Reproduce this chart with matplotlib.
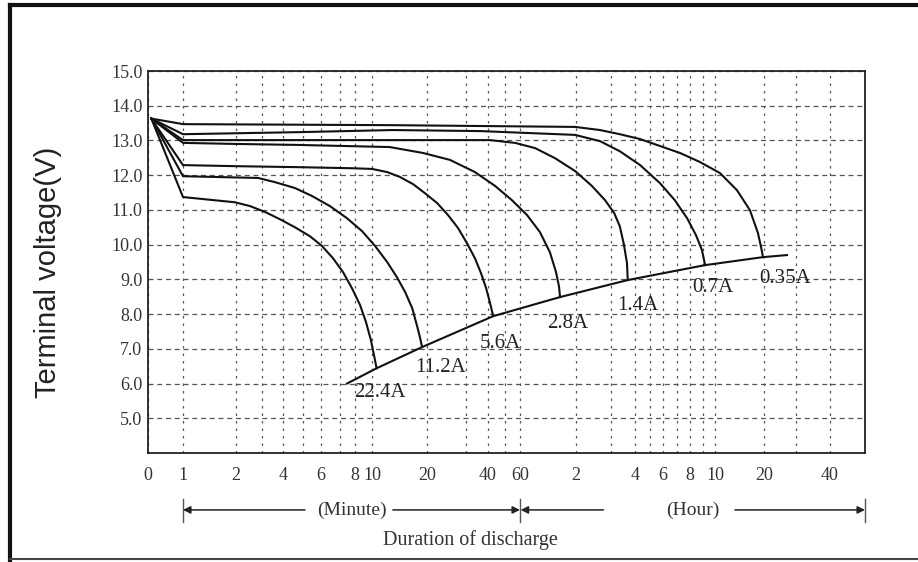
import numpy as np
import matplotlib
matplotlib.use("Agg")
import matplotlib.pyplot as plt
import matplotlib.transforms as mtransforms
from matplotlib.lines import Line2D

# discharge time in minutes, terminal voltage in V
t_22_4 = [0.68, 1.0, 1.97, 2.49, 3.13, 3.84, 4.57, 5.37, 6.05, 6.61, 7.19, 7.78, 8.55, 9.24, 9.86, 10.25, 10.6]
v_22_4 = [13.63, 11.37, 11.22, 11.11, 10.94, 10.73, 10.50, 10.24, 9.96, 9.61, 9.21, 8.75, 8.26, 7.77, 7.25, 6.82, 6.44]

t_11_2 = [0.68, 1.0, 2.82, 3.58, 4.57, 5.48, 6.45, 7.45, 8.77, 10.4, 12.1, 13.7, 15.2, 16.6, 17.6, 18.3, 18.8]
v_11_2 = [13.63, 11.97, 11.92, 11.80, 11.63, 11.40, 11.11, 10.76, 10.39, 9.96, 9.50, 9.06, 8.63, 8.17, 7.68, 7.33, 7.05]

t_5_6 = [0.68, 1.0, 1.97, 4.84, 7.78, 10.0, 12.1, 14.2, 16.8, 19.5, 22.2, 24.9, 27.6, 30.4, 33.7, 36.5, 39.0, 41.0, 42.8]
v_5_6 = [13.63, 12.29, 12.26, 12.23, 12.20, 12.18, 12.09, 11.95, 11.74, 11.48, 11.20, 10.85, 10.48, 10.04, 9.61, 9.18, 8.75, 8.34, 7.94]

t_2_8 = [0.68, 1.0, 1.97, 4.84, 12.5, 19.0, 25.4, 33.7, 43.9, 54.4, 65.5, 76.8, 86.9, 93.7, 97.2, 98.5]
v_2_8 = [13.63, 12.93, 12.90, 12.87, 12.81, 12.64, 12.44, 12.09, 11.69, 11.28, 10.85, 10.36, 9.78, 9.21, 8.80, 8.49]

t_1_4 = [0.68, 1.0, 4.84, 26.7, 41.0, 56.5, 72.3, 92.5, 118.6, 144.3, 168, 187, 200, 210, 218, 220]
v_1_4 = [13.63, 13.01, 13.01, 13.01, 13.01, 12.93, 12.78, 12.49, 12.12, 11.69, 11.28, 10.91, 10.53, 10.01, 9.47, 8.98]

t_0_7 = [0.68, 1.0, 4.84, 13.0, 36.1, 118.6, 158.5, 200, 259, 345, 410, 466, 507, 535, 550]
v_0_7 = [13.63, 13.18, 13.24, 13.30, 13.27, 13.16, 12.98, 12.69, 12.29, 11.77, 11.28, 10.76, 10.27, 9.84, 9.41]

t_0_35 = [0.68, 1.0, 13.0, 118.6, 158.5, 200, 259, 345, 433, 525, 644, 818, 984, 1102, 1151, 1183]
v_0_35 = [13.63, 13.47, 13.44, 13.39, 13.30, 13.18, 13.04, 12.84, 12.64, 12.38, 12.06, 11.57, 10.99, 10.33, 9.93, 9.64]

t_cut = [7.45, 10.6, 18.8, 42.8, 98.5, 220, 550, 1183, 1607]
v_cut = [6.0, 6.44, 7.05, 7.94, 8.49, 8.98, 9.41, 9.64, 9.70]

curves = [(t_22_4, v_22_4, "22.4A", (3, -24)),
          (t_11_2, v_11_2, "11.2A", (18, -20)),
          (t_5_6, v_5_6, "5.6A", (7, -27)),
          (t_2_8, v_2_8, "2.8A", (8, -26)),
          (t_1_4, v_1_4, "1.4A", (10, -25)),
          (t_0_7, v_0_7, "0.7A", (8, -22)),
          (t_0_35, v_0_35, "0.35A", (22, -21))]

# x axis of the original is a hand drawn, roughly logarithmic time scale
scale_t = [0.653, 1, 2, 3, 4, 5, 6, 7, 8, 10, 20, 30, 40, 50, 60,
           120, 180, 240, 300, 360, 420, 480, 540, 600, 1200, 1800, 2400, 3470]
scale_u = [0, 35, 88, 114, 135, 155, 173, 192, 207, 224, 279, 318, 340, 357, 372,
           428, 463, 487, 502, 515, 529, 542, 555, 567, 616, 648, 682, 717]
log_t = np.log10(scale_t)

def fwd(t):
    return np.interp(np.log10(np.clip(t, 1e-6, None)), log_t, scale_u)

def inv(u):
    return 10 ** np.interp(u, scale_u, log_t)

major_t = [0.653, 1, 2, 4, 6, 8, 10, 20, 40, 60, 120, 240, 360, 480, 600, 1200, 2400]
major_lbl = ["0", "1", "2", "4", "6", "8", "10", "20", "40", "60",
             "2", "4", "6", "8", "10", "20", "40"]
grid_t = [3, 5, 7, 30, 50, 180, 300, 420, 540, 1800]
volt_ticks = [5, 6, 7, 8, 9, 10, 11, 12, 13, 14, 15]

serif = "Liberation Serif"

fig = plt.figure(figsize=(9.18, 5.62), dpi=100)
ax = fig.add_axes([148/918, 109/562, 717/918, 382/562])
ax.set_xscale("function", functions=(fwd, inv))
ax.set_xlim(scale_t[0], scale_t[-1])
ax.set_ylim(4, 15)

ax.set_xticks(major_t)
ax.set_xticklabels(major_lbl, fontfamily=serif, fontsize=13, color="#333")
ax.set_xticks(grid_t, minor=True)
ax.set_yticks(volt_ticks)
ax.set_yticklabels(["%.1f" % v for v in volt_ticks], fontfamily=serif, fontsize=13, color="#333")
ax.tick_params(which="both", length=0)
ax.tick_params(axis="x", pad=10)
ax.tick_params(axis="y", pad=4)

ax.xaxis.grid(True, which="both", linestyle=(0, (2, 4)), color="#555", lw=0.9)
ax.yaxis.grid(True, which="major", linestyle=(0, (4, 3)), color="#555", lw=0.9)
ax.set_axisbelow(True)
for s in ax.spines.values():
    s.set_linewidth(1.3)
    s.set_color("#222")

for t, v, name, off in curves:
    ax.plot(t, v, color="#111", lw=1.5)
    ax.annotate(name, xy=(t[-1], v[-1]), xytext=off, textcoords="offset pixels",
                ha="center", va="center", fontfamily=serif, fontsize=15, color="#222")
ax.plot(t_cut, v_cut, color="#111", lw=1.5)

# minute / hour arrows under the axis
trans = mtransforms.blended_transform_factory(ax.transData, ax.transAxes)
y_arr = -0.149
for x in [1, 60, scale_t[-1]]:
    ax.plot([x, x], [-0.12, -0.18], color="#555", lw=1, transform=trans, clip_on=False)
arrows = [(5.1, 1), (13.0, 60), (165, 60.5), (796, scale_t[-1])]
for tail, head in arrows:
    ax.annotate("", xy=(head, y_arr), xytext=(tail, y_arr), xycoords=trans, textcoords=trans,
                annotation_clip=False,
                arrowprops=dict(arrowstyle="-|>", color="#222", lw=1.1,
                                shrinkA=0, shrinkB=0, mutation_scale=11))
ax.text(7.8, y_arr, "(Minute)", transform=trans, ha="center", va="center",
        fontfamily=serif, fontsize=14, color="#333")
ax.text(494, y_arr, "(Hour)", transform=trans, ha="center", va="center",
        fontfamily=serif, fontsize=14, color="#333")

fig.text(470/918, 1 - 540/562, "Duration of discharge", ha="center", va="center",
         fontfamily=serif, fontsize=14.5, color="#333")
fig.text(48/918, 1 - 272/562, "Terminal voltage(V)", rotation=90, ha="center", va="center",
         fontfamily="Liberation Sans", fontsize=21, color="#222")

# outer frame of the scanned sheet
fig.add_artist(Line2D([10/918, 10/918], [0, 1 - 5/562], color="#111", lw=3))
fig.add_artist(Line2D([10/918, 1], [1 - 5/562, 1 - 5/562], color="#111", lw=3))
fig.add_artist(Line2D([10/918, 1], [3/562, 3/562], color="#444", lw=1.5))

fig.savefig("out.png", dpi=100)
